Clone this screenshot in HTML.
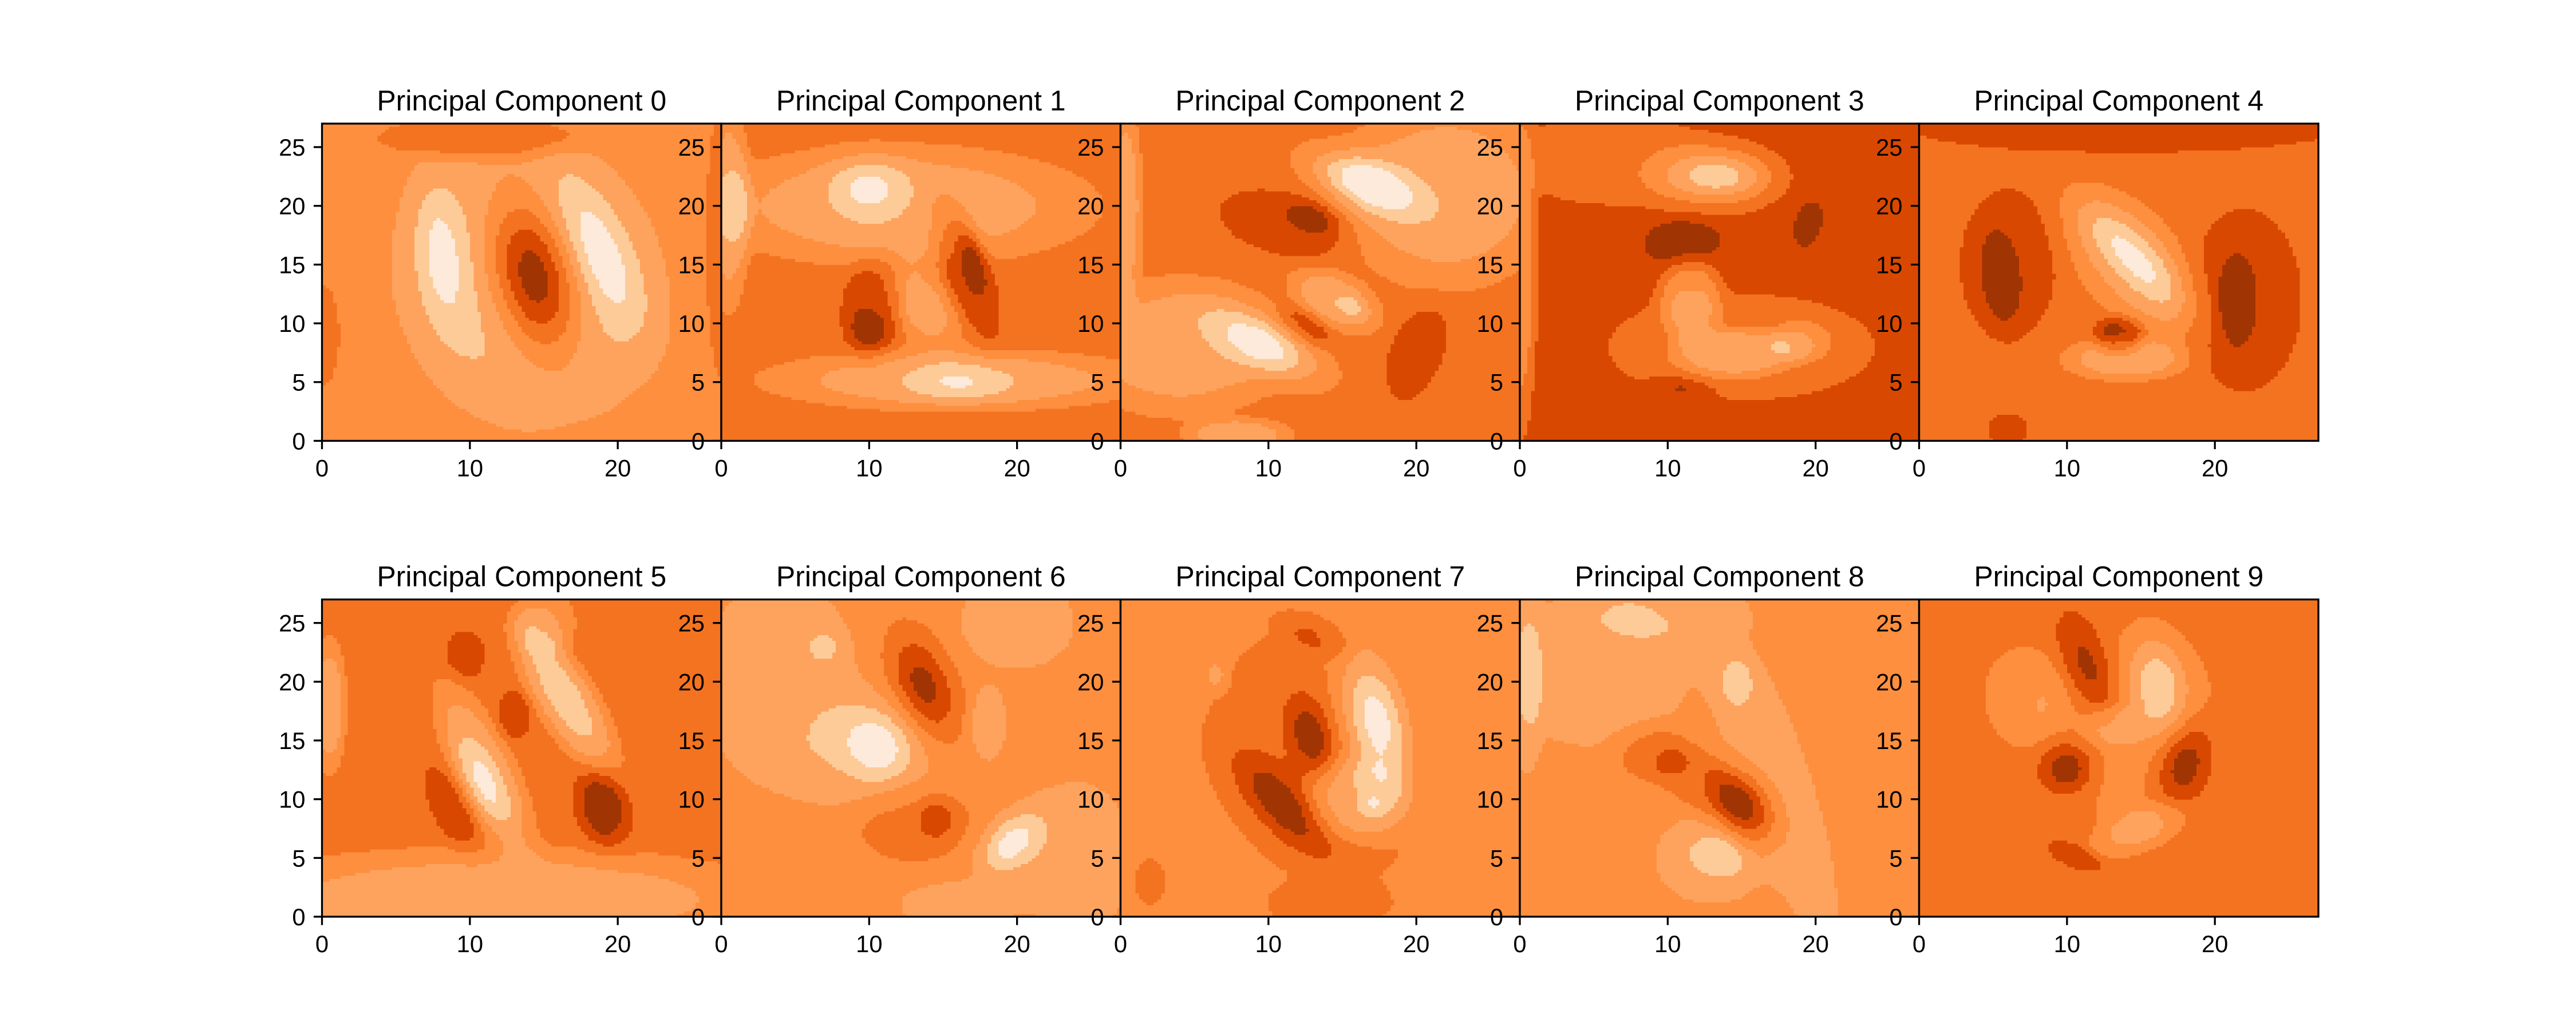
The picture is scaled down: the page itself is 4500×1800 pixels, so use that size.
<!DOCTYPE html>
<html><head><meta charset="utf-8"><title>Principal Components</title>
<style>
html,body{margin:0;padding:0;background:#fff;}
svg{display:block;font-family:"Liberation Sans","DejaVu Sans",sans-serif;}
</style></head>
<body>
<svg id="fig" xmlns="http://www.w3.org/2000/svg" width="4500" height="1800" viewBox="0 0 4500 1800">
<rect x="0" y="0" width="4500" height="1800" fill="#ffffff"/>
</svg>
<script>
// ---- data ----
const panelTitles = ["Principal Component 0","Principal Component 1","Principal Component 2","Principal Component 3","Principal Component 4","Principal Component 5","Principal Component 6","Principal Component 7","Principal Component 8","Principal Component 9"];
const xTicks = [0,10,20];
const yTicks = [0,5,10,15,20,25];
const levelColors = ['#feeada','#fdcb98','#fda35e','#fd8f3f','#f47320','#d94801','#a03403'];
const panelBase = [3,4,4,5,4,4,3,3,3,4];
// blob: [x, y, sx, sy, thetaDeg, amplitude, shapePower]
const blobs0 = [[14.3,14,2,4.8,10,5,1],[14,13.5,6,8.5,8,-2,2],[8,16,1.1,4.2,5,-1.6,1],[18.8,16,1.4,4.6,20,-1.7,1],[11,25.8,5,1.3,0,1.5,2],[0,9,0.8,3,0,1.5,2],[27,17,0.7,8,0,1.5,2]];
const blobs1 = [[12,20,9,3.5,0,-2,2],[10,21.5,1.8,1.8,0,-2,1],[16,5.2,9,1.8,0,-2,2],[16,5,2.5,1,0,-1.6,1],[10.3,11.5,1.5,3.2,-5,1.5,2],[10,9.5,0.7,0.8,0,1.5,1],[16.5,14.8,1.2,4.5,15,1.5,2],[16.8,16,0.6,1.6,15,1.5,1],[13.5,11.5,1.4,2.6,25,-2.5,1],[0.5,20,1,6,0,-2,2]];
const blobs2 = [[22,21,5,5.5,0,-2,2],[16.5,22,2.8,1.4,-30,-3.5,1],[4,8,5,4,0,-2,2],[10,8,3,1.4,-35,-3,1],[11,18.5,3.5,2,-20,1,2],[13,19,1.3,0.9,-30,1.5,1],[12.5,9.8,1.6,0.9,-40,1.2,2],[14.5,12,2.5,1.5,-40,-2,2],[15.5,11.5,0.8,0.5,-40,-1.2,1],[20,7.5,1.4,3.2,-15,1,2],[0.3,20,0.8,6,0,-2,2],[8,0.5,2.5,1,0,-2,2]];
const blobs3 = [[13,22.5,3.5,2.5,0,-1,2],[13.5,22.5,2.2,1.3,0,-3,1],[11,17,2,1.5,10,1,2],[19.5,18.5,0.7,1.5,-10,1,2],[6,24,5,3,0,-1,2],[15,8,7,3.5,0,-1,2],[11.5,12,1.5,2.5,0,-2.2,2],[14.5,7.5,3,1.5,0,-2.2,2],[19,8.5,1.5,1.3,0,-1.5,2],[0,15,0.8,10,0,-2,2],[11,4.5,1.2,0.6,-10,1.2,1]];
const blobs4 = [[14,26.5,11,1.5,0,1,2],[6,15,2.5,5,0,1,2],[5.5,14,1,3,5,1.2,2],[22,12,3,6,0,1,2],[21.5,12,1,3,0,1.2,2],[14.5,15,2.6,5,30,-1.5,2],[14.5,15.5,1.2,3.5,35,-2.5,1],[13.5,9,1.2,1.2,0,2,2],[14,7,3,1.3,0,-2,2],[6,1,1,1,0,1,2]];
const blobs5 = [[9.7,22.3,1,1.6,0,1,2],[16.5,18.5,1.5,5,25,-2.2,2],[16.3,19,0.8,3,25,-1,1],[13,17.2,0.9,1.6,0,1,2],[11,12.5,1.5,5.5,20,-2,2],[11,11.5,0.8,2.5,20,-2,1],[19,9.3,1.5,3,10,1,2],[19,9.5,1,2,5,1.2,2],[8.7,9.2,1,3,20,1,2],[12,1.5,13,3,0,-2,2],[0.5,18,0.8,4,0,-2,2],[15,25,1.5,2,0,-1.5,2]];
const blobs6 = [[4,20,4,7,0,-1,2],[20,25,3,3,0,-1,2],[7,23,0.8,0.9,0,-1.2,1],[13.7,19.5,1.4,3.2,15,3,1],[10.5,14.5,1.6,2,10,-2.6,1],[10,14,4,4,0,-0.8,2],[18,16.5,1,2.5,0,-1,2],[13,8,3,2.5,0,1,2],[14.5,8.3,0.9,1.2,0,1,2],[19.5,6.2,1.2,2,-30,-2.8,1],[24,5,3,5,0,-1,2],[16,1,3,1.5,0,-1,2]];
const blobs7 = [[14,14,6,8.5,10,1,2],[13,24,2,1,-30,1,2],[11,9.5,1.3,3.5,35,2.5,1],[12.8,15.5,1,2.2,10,2.4,1],[17.3,16.5,1.5,4,10,-4,1],[16,10,2.5,2.5,0,-2,2],[17,9.5,0.6,0.7,0,-1,1],[14,1,3,1.5,0,1,2],[2,3,0.8,1.5,0,1,2],[6.5,20.5,0.6,1,0,-1,2]];
const blobs8 = [[5,21,5,5,0,-1,2],[10,26,4,2,0,-1,2],[17,12,2,11,15,-1,2],[14.7,20,0.8,1.6,0,-1,2],[9,14,2,1.8,0,1,2],[12,11.5,1.5,3,45,1,2],[15.3,9.3,1.3,2.4,20,3.5,1],[13.5,5.2,1.5,1.3,-20,-1.2,2],[13,5,3,3,0,-1,2],[0.5,20,0.8,6,0,-1,2]];
const blobs9 = [[14,16,5,6,0,-1,2],[11.5,21,1.2,3,15,2.5,1],[16.2,19.5,1.3,3,5,-2.5,1],[10,12.7,1.3,1.6,0,3,1],[17.9,13.1,1.3,2.5,-10,3,1],[13.2,16.2,1.5,1.3,0,-1.2,2],[15,7.5,2.5,1.3,30,-1.5,2],[10.5,5.2,1.5,0.7,-30,1.2,2],[7,19,2,3,0,-1,2]];
const panelBlobs = [blobs0,blobs1,blobs2,blobs3,blobs4,blobs5,blobs6,blobs7,blobs8,blobs9];

// ---- layout ----
const NS = 'http://www.w3.org/2000/svg';
const svg = document.getElementById('fig');
const L0 = 562.5, PW = 697.5, PH = 554.4, TOPS = [216, 1047.6];
const XMAX = 27, YMAX = 27, STEP = 0.25;
function xs(k, v){ return L0 + (k%5)*PW + v/XMAX*PW; }
function ys(k, v){ const t = TOPS[Math.floor(k/5)]; return t + PH - v/YMAX*PH; }
function mk(tag, attrs, parent){ const e = document.createElementNS(NS, tag); for (const a in attrs) e.setAttribute(a, attrs[a]); (parent||svg).appendChild(e); return e; }
function field(b, base, x, y){
  let v = base;
  for (const [cx,cy,sx,sy,th,a,p] of b){
    const t = th*Math.PI/180, dx = x-cx, dy = y-cy;
    const u = dx*Math.cos(t)+dy*Math.sin(t), w = -dx*Math.sin(t)+dy*Math.cos(t);
    const r = (u*u/(sx*sx)+w*w/(sy*sy))/2;
    v += a*Math.exp(-Math.pow(r, p));
  }
  return v;
}
function level(v){ return Math.max(0, Math.min(levelColors.length-1, Math.round(v))); }

for (let k = 0; k < 10; k++){
  const g = mk('g', {});
  
  
  const cg = mk('g', {'shape-rendering':'crispEdges'}, g);
  
  
  const n = Math.round(XMAX/STEP);
  for (let j = 0; j < n; j++){
    const yv = (j+0.5)*STEP;
    let runStart = 0, runLev = level(field(panelBlobs[k], panelBase[k], 0.5*STEP, yv));
    for (let i = 1; i <= n; i++){
      const lv = i < n ? level(field(panelBlobs[k], panelBase[k], (i+0.5)*STEP, yv)) : -1;
      if (lv !== runLev){
        const x0 = xs(k, runStart*STEP), x1 = xs(k, i*STEP);
        const y1 = ys(k, j*STEP), y0 = ys(k, (j+1)*STEP);
        const r = mk('rect', {x:x0.toFixed(2), y:y0.toFixed(2), width:(x1-x0+0.6).toFixed(2), height:(y1-y0+0.6).toFixed(2), fill:levelColors[runLev]}, cg);
        
        
        runStart = i; runLev = lv;
      }
    }
  }
  const x0 = xs(k,0), x1 = xs(k,XMAX), yT = ys(k,YMAX), yB = ys(k,0);
  const frame = mk('rect', {x:x0, y:yT, width:x1-x0, height:yB-yT, fill:'none', stroke:'#000', 'stroke-width':3.3}, g);
  
  
  for (const t of xTicks){
    const x = xs(k,t);
    const tk = mk('line', {x1:x, y1:yB, x2:x, y2:yB+14.6, stroke:'#000', 'stroke-width':3.3}, g);
    
    
    const tl = mk('text', {x:x, y:yB+62, 'font-size':41.7, 'text-anchor':'middle', fill:'#000'}, g);
    
    
    tl.textContent = t;
  }
  for (const t of yTicks){
    const y = ys(k,t);
    const tk = mk('line', {x1:x0-14.6, y1:y, x2:x0, y2:y, stroke:'#000', 'stroke-width':3.3}, g);
    
    
    const tl = mk('text', {x:x0-29, y:y+15, 'font-size':41.7, 'text-anchor':'end', fill:'#000'}, g);
    
    
    tl.textContent = t;
  }
  const ti = mk('text', {x:(x0+x1)/2, y:yT-23, 'font-size':50, 'text-anchor':'middle', fill:'#000'}, g);
  
  
  ti.textContent = panelTitles[k];
}
</script>
</body></html>
